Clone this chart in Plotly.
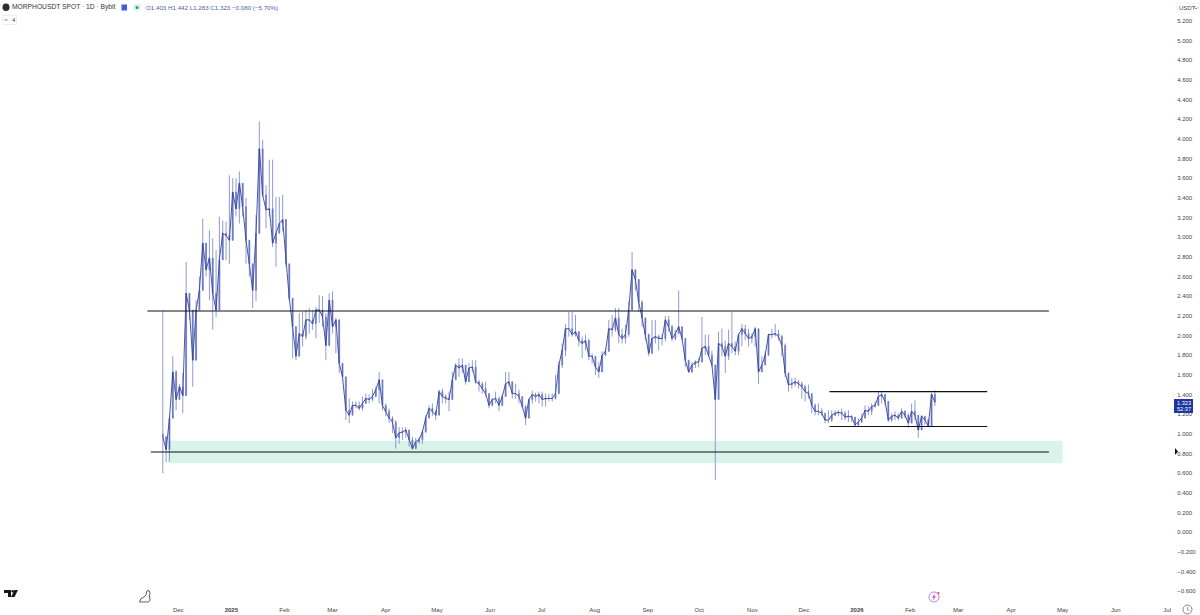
import pandas as pd
import plotly.graph_objects as go

highs = [
    2.25, .97, 1.19, 1.79, 1.65, 1.51, 1.62, 2.75, 2.43, 2.23, 2.36, 2.60, 3.19, 2.90, 3.07, 2.99, 2.87, 3.21, 3.17, 3.16,
    3.63, 3.60, 3.60, 3.67, 3.48, 3.40, 2.97, 2.72, 3.23, 4.18, 3.99, 3.53, 3.79, 3.79, 3.41, 3.41, 3.43, 3.14, 2.73, 2.38,
    2.09, 2.23, 2.24, 2.26, 2.28, 2.26, 2.29, 2.41, 2.40, 2.23, 2.43, 2.45, 2.18, 1.82, 1.72, 1.58, 1.36, 1.33, 1.33, 1.33,
    1.38, 1.41, 1.40, 1.46, 1.48, 1.63, 1.48, 1.31, 1.26, 1.18, 1.14, 1.07, 1.07, 1.07, 1.04, .97, .96, .97, 1.04, 1.19,
    1.29, 1.31, 1.24, 1.45, 1.46, 1.40, 1.43, 1.63, 1.72, 1.77, 1.77, 1.67, 1.72, 1.75, 1.75, 1.55, 1.53, 1.53, 1.41, 1.36,
    1.43, 1.38, 1.41, 1.63, 1.63, 1.53, 1.51, 1.45, 1.38, 1.29, 1.36, 1.44, 1.42, 1.43, 1.43, 1.41, 1.41, 1.41, 1.60, 1.73,
    1.92, 2.12, 2.24, 2.24, 2.21, 2.04, 1.99, 2.01, 1.97, 1.82, 1.73, 1.73, 1.84, 1.87, 2.16, 2.21, 2.28, 2.28, 2.07, 2.11,
    2.35, 2.85, 2.68, 2.46,
    2.36, 2.18, 2.02, 2.16, 2.16, 2.01, 2.01, 2.20, 2.20, 2.11, 2.06, 2.46, 2.09, 1.97, 1.75, 1.73, 1.75, 1.77, 2.19, 2.01,
    2.01, 1.85, 1.70, 2.04, 2.07, 1.95, 2.06, 2.24, 1.94, 2.02, 2.12, 2.11, 2.07, 2.02, 2.09, 2.07, 1.79, 1.84, 2.02, 2.07,
    2.12, 2.06, 2.01, 1.92, 1.62, 1.57, 1.57, 1.55, 1.53, 1.50, 1.50, 1.41, 1.31, 1.31, 1.26, 1.21, 1.24, 1.24, 1.24, 1.24,
    1.26, 1.23, 1.24, 1.19, 1.14, 1.16, 1.21, 1.29, 1.28, 1.31, 1.33, 1.43, 1.43, 1.40, 1.31, 1.21, 1.23, 1.21, 1.26, 1.24,
    1.21, 1.31, 1.34, 1.19, 1.19, 1.18, 1.16, 1.42, 1.442,
]
lows = [
    .60, .71, .72, 1.18, 1.24, 1.38, 1.21, 1.50, 2.16, 1.48, 1.96, 2.29, 2.57, 2.60, 2.36, 2.06, 2.19, 2.60, 2.80, 2.77,
    2.73, 3.14, 3.21, 3.14, 3.21, 2.73, 2.60, 2.28, 2.35, 3.04, 3.41, 3.09, 3.21, 2.90, 2.70, 3.04, 3.06, 2.70, 2.36, 1.77,
    1.75, 1.92, 1.89, 1.96, 2.02, 2.06, 1.97, 2.13, 2.09, 1.75, 1.96, 2.02, 1.82, 1.62, 1.58, 1.14, 1.11, 1.21, 1.26, 1.24,
    1.24, 1.31, 1.31, 1.33, 1.38, 1.31, 1.24, 1.18, 1.11, 1.01, .85, .90, .94, .96, .87, .84, .89, .90, .90, 1.01,
    1.18, 1.18, 1.14, 1.24, 1.31, 1.31, 1.23, 1.38, 1.60, 1.58, 1.62, 1.50, 1.55, 1.63, 1.51, 1.43, 1.41, 1.38, 1.26, 1.28,
    1.31, 1.23, 1.28, 1.41, 1.48, 1.36, 1.36, 1.31, 1.26, 1.09, 1.16, 1.31, 1.33, 1.31, 1.28, 1.28, 1.33, 1.33, 1.35, 1.57,
    1.67, 1.79, 1.99, 1.99, 1.99, 1.89, 1.77, 1.85, 1.75, 1.71, 1.60, 1.57, 1.73, 1.79, 1.85, 1.99, 2.04, 1.92, 1.92, 1.92,
    1.99, 2.33, 2.46, 2.24,
    2.09, 1.95, 1.79, 1.89, 1.92, 1.85, 1.90, 1.94, 2.04, 1.94, 1.95, 2.06, 1.95, 1.68, 1.62, 1.62, 1.67, 1.68, 1.75, 1.80,
    1.79, 1.68, .53, 1.55, 1.79, 1.62, 1.75, 1.82, 1.80, 1.80, 1.89, 1.95, 1.89, 1.92, 1.89, 1.51, 1.63, 1.70, 1.84, 1.97,
    1.99, 1.95, 1.79, 1.58, 1.43, 1.46, 1.48, 1.46, 1.36, 1.33, 1.36, 1.21, 1.19, 1.19, 1.18, 1.11, 1.11, 1.12, 1.18, 1.18,
    1.14, 1.14, 1.12, 1.12, 1.08, 1.08, 1.11, 1.16, 1.19, 1.19, 1.26, 1.28, 1.31, 1.29, 1.12, 1.12, 1.14, 1.14, 1.16, 1.16,
    1.06, 1.11, 1.14, .96, 1.07, 1.09, 1.07, 1.08, 1.283,
]
closes = [
    .97, .84, 1.16, 1.63, 1.35, 1.48, 1.39, 2.43, 2.26, 1.75, 2.26, 2.46, 2.94, 2.67, 2.79, 2.43, 2.26, 2.77, 3.04, 3.02,
    2.97, 3.46, 3.29, 3.55, 3.31, 2.97, 2.73, 2.46, 3.04, 3.90, 3.43, 3.28, 3.29, 2.94, 3.04, 3.14, 3.18, 2.73, 2.38, 2.09,
    1.79, 2.02, 1.99, 2.16, 2.16, 2.12, 2.26, 2.26, 2.19, 1.90, 2.36, 2.09, 2.16, 1.72, 1.58, 1.24, 1.19, 1.29, 1.29, 1.26,
    1.31, 1.36, 1.35, 1.38, 1.45, 1.55, 1.29, 1.23, 1.16, 1.12, .96, 1.01, 1.02, 1.04, .94, .85, .92, .94, 1.02, 1.16,
    1.26, 1.23, 1.19, 1.43, 1.38, 1.36, 1.35, 1.55, 1.70, 1.67, 1.70, 1.53, 1.67, 1.68, 1.53, 1.51, 1.46, 1.41, 1.29, 1.35,
    1.36, 1.29, 1.38, 1.51, 1.53, 1.41, 1.41, 1.38, 1.28, 1.16, 1.35, 1.40, 1.38, 1.40, 1.35, 1.36, 1.36, 1.36, 1.41, 1.70,
    1.85, 2.07, 2.07, 2.01, 2.04, 1.95, 1.92, 1.95, 1.79, 1.79, 1.68, 1.63, 1.80, 1.84, 2.07, 2.06, 2.18, 2.01, 1.97, 2.01,
    2.26, 2.67, 2.57, 2.34,
    2.18, 2.01, 1.82, 1.97, 1.99, 1.97, 1.97, 2.16, 2.09, 1.97, 2.02, 2.09, 1.97, 1.75, 1.63, 1.70, 1.73, 1.73, 1.87, 1.89,
    1.80, 1.70, 1.35, 1.92, 1.89, 1.79, 1.92, 1.89, 1.84, 2.01, 2.07, 2.02, 1.97, 1.99, 2.07, 1.63, 1.70, 1.80, 2.01, 2.01,
    2.02, 1.99, 1.90, 1.62, 1.50, 1.51, 1.53, 1.51, 1.48, 1.43, 1.41, 1.29, 1.23, 1.23, 1.21, 1.14, 1.14, 1.19, 1.21, 1.22,
    1.21, 1.17, 1.18, 1.17, 1.09, 1.12, 1.16, 1.24, 1.23, 1.28, 1.29, 1.38, 1.40, 1.33, 1.14, 1.18, 1.19, 1.16, 1.23, 1.19,
    1.11, 1.23, 1.19, 1.04, 1.18, 1.14, 1.08, 1.403, 1.323,
]
opens = [1.0] + closes[:-1]
dates = pd.date_range("2024-11-22", "2026-02-15 12:00", periods=len(closes))

y_ticks = [-0.6, -0.4, -0.2, 0.0, 0.2, 0.4, 0.6, 0.8, 1.0, 1.2, 1.4, 1.6, 1.8, 2.0, 2.2, 2.4, 2.6, 2.8, 3.0,
           3.2, 3.4, 3.6, 3.8, 4.0, 4.2, 4.4, 4.6, 4.8, 5.0, 5.2]
y_labels = [f"{v:.3f}".replace("-", "\u2212") for v in y_ticks]
x_ticks = ["2024-12-01", "2025-01-01", "2025-02-01", "2025-03-01", "2025-04-01", "2025-05-01", "2025-06-01",
           "2025-07-01", "2025-08-01", "2025-09-01", "2025-10-01", "2025-11-01", "2025-12-01", "2026-01-01",
           "2026-02-01", "2026-03-01", "2026-04-01", "2026-05-01", "2026-06-01", "2026-07-01"]
x_labels = ["Dec", "<b>2025</b>", "Feb", "Mar", "Apr", "May", "Jun", "Jul", "Aug", "Sep", "Oct", "Nov", "Dec",
            "<b>2026</b>", "Feb", "Mar", "Apr", "May", "Jun", "Jul"]

W, H = 1200, 615
PLOT_R, PLOT_B = 1174, 600
WICK = "#7480c4"
BODY = "#34449f"
NONE = "rgba(0,0,0,0)"
FONT = "Liberation Sans"


def fx(px):
    return px / PLOT_R


def fy(py):
    return 1 - py / PLOT_B


def label(px, py, text, size=7, color="#333333", anchor="left"):
    return dict(x=fx(px), y=fy(py), xref="paper", yref="paper", text=text, showarrow=False,
                xanchor=anchor, yanchor="middle", borderpad=0, font=dict(family=FONT, size=size, color=color))


def box(x0, y0, x1, y1, fill, line=None, kind="rect"):
    return dict(type=kind, xref="paper", yref="paper", x0=fx(x0), y0=fy(y0), x1=fx(x1), y1=fy(y1),
                fillcolor=fill, line=dict(color=line or fill, width=0.7 if line else 0), layer="above")


def path(points, fill, line_color=None, width=0, closed=True):
    d = "M" + " L".join(f"{fx(a):.5f},{fy(b):.5f}" for a, b in points)
    if closed:
        d += " Z"
    return dict(type="path", xref="paper", yref="paper", path=d, fillcolor=fill,
                line=dict(color=line_color or fill, width=width), layer="above")


fig = go.Figure()
fig.add_trace(go.Candlestick(
    x=dates, open=opens, high=highs, low=lows, close=closes,
    increasing=dict(line=dict(color=WICK, width=0.8), fillcolor=BODY),
    decreasing=dict(line=dict(color=WICK, width=0.8), fillcolor=BODY),
    whiskerwidth=0, showlegend=False, hoverinfo="skip",
))
# the daily bars run together at this zoom, the close line gives the same dark thread
fig.add_trace(go.Scatter(x=dates, y=closes, mode="lines", line=dict(color=BODY, width=0.9),
                         showlegend=False, hoverinfo="skip"))

levels = [
    ("2024-11-13", "2026-04-23", 2.25),
    ("2024-11-15", "2026-04-23", 0.815),
    ("2025-12-16", "2026-03-18", 1.43),
    ("2025-12-16", "2026-03-18", 1.075),
]
shapes = [dict(type="rect", x0="2024-11-25", x1="2026-05-01", y0=0.70, y1=0.93, fillcolor="#d9f3ea",
               line=dict(width=0), layer="below")]
for start, end, price in levels:
    shapes.append(dict(type="line", x0=start, x1=end, y0=price, y1=price, line=dict(color="#111111", width=1.1)))

shapes += [
    box(2.5, 3.5, 9.5, 11, "#2a2e39", kind="circle"),
    box(121.5, 4.5, 127, 10.5, "#3d5fd9"),
    box(133, 3.5, 141, 11.5, "#e3f3ee", kind="circle"),
    box(135.5, 6, 138.5, 9, "#1f9e77", kind="circle"),
    box(2.5, 15.5, 16.5, 24.5, "#ffffff", "#e6e6e6"),
    path([(4.5, 19), (6, 20.8), (7.5, 19)], NONE, "#555555", 0.7, closed=False),
    box(1177, 3, 1199, 13, "#ffffff", "#eeeeee"),
    path([(1194.5, 7.5), (1196, 9), (1197.5, 7.5)], NONE, "#555555", 0.7, closed=False),
    box(1174, 399, 1193, 413, "#1f36a0"),
    box(929, 592, 939, 602, NONE, "#a64fc9", kind="circle"),
    path([(934.8, 593.8), (932, 597.5), (933.8, 597.5), (933, 600.2), (936, 596.4), (934.2, 596.4)], "#a64fc9"),
    box(937.5, 592, 939.5, 594, "#f23645", kind="circle"),
    box(1183, 605, 1192, 614, NONE, "#555555", kind="circle"),
    path([(1187.5, 606.8), (1187.5, 609.7), (1189.5, 610.6)], NONE, "#555555", 0.6, closed=False),
    path([(1175, 448), (1178, 451.5), (1175, 455)], "#111111"),
    # tradingview mark
    path([(4, 590), (11, 590), (11, 597), (8, 597), (8, 593), (4, 593)], "#131722"),
    box(11.5, 590, 14, 592.5, "#131722", kind="circle"),
    path([(14.5, 590), (18, 590), (14.5, 597), (11, 597)], "#131722"),
    # dino icon
    path([(139.5, 602), (141, 598.5), (144, 597), (146, 595), (147, 591), (149, 590.5), (150, 593),
          (149.5, 596), (150, 600), (148.5, 602), (139.5, 602)], NONE, "#333333", 0.8, closed=False),
]

annotations = [
    label(11, 7.5, "MORPHOUSDT SPOT \u00b7 1D \u00b7 Bybit", 6.7),
    label(144.5, 7.5, "O1.403 H1.442 L1.283 C1.323 \u22120.080 (\u22125.70%)", 6.2, "#4a5cb8"),
    label(10.5, 20, "4", 6, "#444444"),
    label(1177.5, 8, "USDT", 6, "#444444"),
    label(1183.5, 403, "1.323", 5.6, "#ffffff", "center"),
    label(1183.5, 409, "52:37", 5.6, "#ffffff", "center"),
]

fig.update_layout(
    width=W, height=H,
    margin=dict(l=0, r=W - PLOT_R, t=0, b=H - PLOT_B),
    paper_bgcolor="white", plot_bgcolor="white",
    boxgap=0.6,
    font=dict(family=FONT, size=6, color="#444444"),
    shapes=shapes, annotations=annotations,
    xaxis=dict(type="date", range=["2024-08-19", "2026-07-05"], tickmode="array", tickvals=x_ticks,
               ticktext=x_labels, showgrid=False, zeroline=False, showline=False, ticks="outside", ticklen=4,
               tickcolor="white", rangeslider=dict(visible=False), tickfont=dict(size=6, color="#444444"),
               tickangle=0),
    yaxis=dict(range=[-0.69, 5.414], side="right", tickmode="array", tickvals=y_ticks, ticktext=y_labels,
               showgrid=False, zeroline=False, showline=False, ticks="outside", ticklen=1, tickcolor="white",
               tickfont=dict(size=6, color="#444444")),
)
fig.write_html("out.html", config=dict(displayModeBar=False), post_script="document.body.style.margin='0';")
